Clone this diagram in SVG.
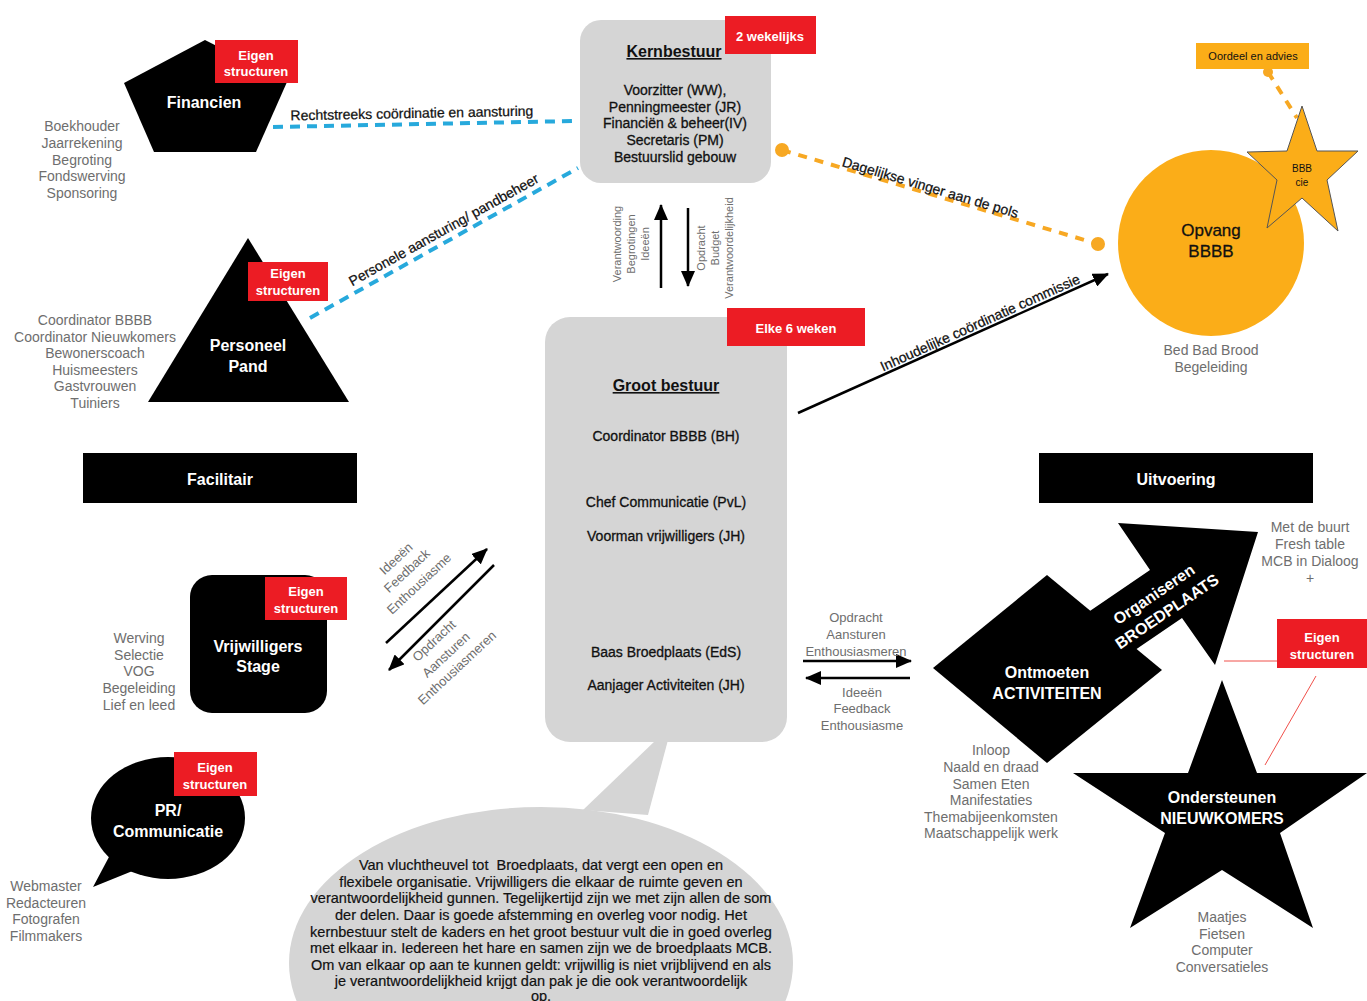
<svg xmlns="http://www.w3.org/2000/svg" width="1367" height="1001" viewBox="0 0 1367 1001">
<style>
text{font-family:"Liberation Sans",Arial,sans-serif}
.lst{font-size:14px;fill:#6e6e6e;text-anchor:middle}
.lbl{font-size:13px;fill:#6e6e6e;text-anchor:middle}
.wt{font-size:16px;font-weight:bold;fill:#fff;text-anchor:middle}
.red{fill:#ec1c24}
.rt{font-size:13px;font-weight:bold;fill:#fff;text-anchor:middle}
.gb{fill:#d5d5d5}
.bt{font-size:14px;fill:#111;text-anchor:middle;stroke:#111;stroke-width:0.3}
.cl{font-size:14px;fill:#111;text-anchor:middle;stroke:#111;stroke-width:0.25}
.vt{font-size:11px;fill:#6e6e6e;text-anchor:middle}
.bub{font-size:14.5px;fill:#111;text-anchor:middle;stroke:#111;stroke-width:0.2}
.blue{fill:none;stroke:#27a9dc;stroke-width:4;stroke-dasharray:10 7}
.org{fill:none;stroke:#f7a823;stroke-width:4;stroke-dasharray:9 8}
.arr{fill:none;stroke:#000;stroke-width:2.5;marker-end:url(#ah)}
</style>
<defs>
<marker id="ah" markerUnits="userSpaceOnUse" markerWidth="16" markerHeight="14" refX="15" refY="7" orient="auto">
<path d="M0,0 L16,7 L0,14 z" fill="#000"/>
</marker>
</defs>
<rect width="1367" height="1001" fill="#fff"/>

<g id="connectors">
<path class="blue" d="M273,127 L575,121"/>
<text class="cl" transform="translate(412,118) rotate(-1.1)">Rechtstreeks coördinatie en aansturing</text>
<path class="blue" d="M310,318 L578,168"/>
<text class="cl" transform="translate(446,234) rotate(-29.2)">Personele aansturing/ pandbeheer</text>
<path class="org" d="M782,150 L1098,244"/>
<circle cx="782" cy="150" r="7" fill="#f7a823"/>
<circle cx="1098" cy="244" r="7" fill="#f7a823"/>
<text class="cl" transform="translate(929,192) rotate(16.6)">Dagelijkse vinger aan de pols</text>
<path class="org" d="M1268,72 L1297,118"/>
<circle cx="1268" cy="72" r="5" fill="#f7a823"/>
<path class="arr" d="M798,413 L1108,274"/>
<text class="cl" transform="translate(982,327) rotate(-24.2)">Inhoudelijke coördinatie commissie</text>
<path class="arr" d="M661,288 L661,205"/>
<path class="arr" d="M688,208 L688,286"/>
<text class="vt" transform="translate(621,244) rotate(-90)">Verantwoording</text>
<text class="vt" transform="translate(635,244) rotate(-90)">Begrotingen</text>
<text class="vt" transform="translate(649,244) rotate(-90)">Ideeën</text>
<text class="vt" transform="translate(705,248) rotate(-90)">Opdracht</text>
<text class="vt" transform="translate(719,248) rotate(-90)">Budget</text>
<text class="vt" transform="translate(733,248) rotate(-90)">Verantwoordelijkheid</text>
<path class="arr" d="M386,643 L487,549"/>
<path class="arr" d="M494,565 L389,670"/>
<text class="lbl" transform="translate(399,562) rotate(-43)">Ideeën</text>
<text class="lbl" transform="translate(410,574) rotate(-43)">Feedback</text>
<text class="lbl" transform="translate(422,587) rotate(-43)">Enthousiasme</text>
<text class="lbl" transform="translate(437,644) rotate(-43)">Opdracht</text>
<text class="lbl" transform="translate(449,658) rotate(-43)">Aansturen</text>
<text class="lbl" transform="translate(460,671) rotate(-43)">Enthousiasmeren</text>
<path class="arr" d="M803,661 L911,661"/>
<path class="arr" d="M910,678 L806,678"/>
<text class="lbl" x="856" y="622">Opdracht</text>
<text class="lbl" x="856" y="639">Aansturen</text>
<text class="lbl" x="856" y="656">Enthousiasmeren</text>
<text class="lbl" x="862" y="697">Ideeën</text>
<text class="lbl" x="862" y="713">Feedback</text>
<text class="lbl" x="862" y="730">Enthousiasme</text>
<path d="M1224,661 L1277,661" stroke="#f0504a" stroke-width="1"/>
<path d="M1316,676 L1265,765" stroke="#f0504a" stroke-width="1"/>
</g>

<g id="financien">
<polygon points="205,40 287,82 256,152 154,152 124,83" fill="#000"/>
<text class="wt" x="204" y="108">Financien</text>
<rect class="red" x="215" y="40" width="83" height="43"/>
<text class="rt" x="256" y="60">Eigen</text>
<text class="rt" x="256" y="76">structuren</text>
<text class="lst" x="82" y="131">Boekhouder</text>
<text class="lst" x="82" y="148">Jaarrekening</text>
<text class="lst" x="82" y="165">Begroting</text>
<text class="lst" x="82" y="181">Fondswerving</text>
<text class="lst" x="82" y="198">Sponsoring</text>
</g>

<g id="kernbestuur">
<rect class="gb" x="580" y="20" width="191" height="163" rx="21"/>
<text x="674" y="57" font-size="16" font-weight="bold" fill="#111" text-anchor="middle" text-decoration="underline">Kernbestuur</text>
<text class="bt" x="675" y="95">Voorzitter (WW),</text>
<text class="bt" x="675" y="112">Penningmeester (JR)</text>
<text class="bt" x="675" y="128">Financiën &amp; beheer(IV)</text>
<text class="bt" x="675" y="145">Secretaris (PM)</text>
<text class="bt" x="675" y="162">Bestuurslid gebouw</text>
<rect class="red" x="725" y="16" width="91" height="38"/>
<text class="rt" x="770" y="41">2 wekelijks</text>
</g>

<g id="personeel">
<polygon points="248,238 349,402 148,402" fill="#000"/>
<text class="wt" x="248" y="351">Personeel</text>
<text class="wt" x="248" y="372">Pand</text>
<rect class="red" x="248" y="262" width="80" height="39"/>
<text class="rt" x="288" y="278">Eigen</text>
<text class="rt" x="288" y="295">structuren</text>
<text class="lst" x="95" y="325">Coordinator BBBB</text>
<text class="lst" x="95" y="342">Coordinator Nieuwkomers</text>
<text class="lst" x="95" y="358">Bewonerscoach</text>
<text class="lst" x="95" y="375">Huismeesters</text>
<text class="lst" x="95" y="391">Gastvrouwen</text>
<text class="lst" x="95" y="408">Tuiniers</text>
</g>

<g id="groot-bestuur">
<rect class="gb" x="545" y="317" width="242" height="425" rx="25"/>
<text x="666" y="391" font-size="16" font-weight="bold" fill="#111" text-anchor="middle" text-decoration="underline">Groot bestuur</text>
<text class="bt" x="666" y="441">Coordinator BBBB (BH)</text>
<text class="bt" x="666" y="507">Chef Communicatie (PvL)</text>
<text class="bt" x="666" y="541">Voorman vrijwilligers (JH)</text>
<text class="bt" x="666" y="657">Baas Broedplaats (EdS)</text>
<text class="bt" x="666" y="690">Aanjager Activiteiten (JH)</text>
<rect class="red" x="727" y="308" width="138" height="38"/>
<text class="rt" x="796" y="333">Elke 6 weken</text>
</g>

<g id="bubble">
<polygon class="gb" points="656,740 668,740 648,815 583,810"/>
<ellipse class="gb" cx="541" cy="963" rx="252" ry="156"/>
<text class="bub" x="541" y="870" xml:space="preserve">Van vluchtheuvel tot  Broedplaats, dat vergt een open en</text>
<text class="bub" x="541" y="887">flexibele organisatie. Vrijwilligers die elkaar de ruimte geven en</text>
<text class="bub" x="541" y="903">verantwoordelijkheid gunnen. Tegelijkertijd zijn we met zijn allen de som</text>
<text class="bub" x="541" y="920">der delen. Daar is goede afstemming en overleg voor nodig. Het</text>
<text class="bub" x="541" y="937">kernbestuur stelt de kaders en het groot bestuur vult die in goed overleg</text>
<text class="bub" x="541" y="953">met elkaar in. Iedereen het hare en samen zijn we de broedplaats MCB.</text>
<text class="bub" x="541" y="970">Om van elkaar op aan te kunnen geldt: vrijwillig is niet vrijblijvend en als</text>
<text class="bub" x="541" y="986">je verantwoordelijkheid krijgt dan pak je die ook verantwoordelijk</text>
<text class="bub" x="541" y="1001">op.</text>
</g>

<g id="facilitair">
<rect x="83" y="453" width="274" height="50" fill="#000"/>
<text class="wt" x="220" y="485">Facilitair</text>
</g>

<g id="uitvoering">
<rect x="1039" y="453" width="274" height="50" fill="#000"/>
<text class="wt" x="1176" y="485">Uitvoering</text>
</g>

<g id="vrijwilligers">
<rect x="190" y="575" width="137" height="138" rx="22" fill="#000"/>
<text class="wt" x="258" y="652">Vrijwilligers</text>
<text class="wt" x="258" y="672">Stage</text>
<rect class="red" x="265" y="577" width="82" height="43"/>
<text class="rt" x="306" y="596">Eigen</text>
<text class="rt" x="306" y="613">structuren</text>
<text class="lst" x="139" y="643">Werving</text>
<text class="lst" x="139" y="660">Selectie</text>
<text class="lst" x="139" y="676">VOG</text>
<text class="lst" x="139" y="693">Begeleiding</text>
<text class="lst" x="139" y="710">Lief en leed</text>
</g>

<g id="pr">
<ellipse cx="168" cy="818" rx="77" ry="61" fill="#000"/>
<polygon points="110,855 93,887 135,870" fill="#000"/>
<text class="wt" x="168" y="816">PR/</text>
<text class="wt" x="168" y="837">Communicatie</text>
<rect class="red" x="174" y="752" width="83" height="44"/>
<text class="rt" x="215" y="772">Eigen</text>
<text class="rt" x="215" y="789">structuren</text>
<text class="lst" x="46" y="891">Webmaster</text>
<text class="lst" x="46" y="908">Redacteuren</text>
<text class="lst" x="46" y="924">Fotografen</text>
<text class="lst" x="46" y="941">Filmmakers</text>
</g>

<g id="opvang">
<circle cx="1211" cy="243" r="93" fill="#fbad18"/>
<text x="1211" y="236" font-size="17" fill="#111" stroke="#111" stroke-width="0.3" text-anchor="middle">Opvang</text>
<text x="1211" y="257" font-size="17" fill="#111" stroke="#111" stroke-width="0.3" text-anchor="middle">BBBB</text>
<text class="lst" x="1211" y="355">Bed Bad Brood</text>
<text class="lst" x="1211" y="372">Begeleiding</text>
</g>

<g id="bbb-cie">
<polygon points="1302,106 1317,151 1358,151 1327,180 1338,231 1302,198 1267,228 1277,180 1247,152 1287,151" fill="#fbad18" stroke="#555" stroke-width="1"/>
<text x="1302" y="172" font-size="10" fill="#111" text-anchor="middle">BBB</text>
<text x="1302" y="186" font-size="10" fill="#111" text-anchor="middle">cie</text>
</g>

<g id="oordeel">
<rect x="1196" y="43" width="113" height="26" fill="#fbad18"/>
<text x="1253" y="60" font-size="11" fill="#111" text-anchor="middle">Oordeel en advies</text>
</g>

<g id="activiteiten">
<polygon points="933,668 1047,575 1162,670 1047,763" fill="#000"/>
<text class="wt" x="1047" y="678">Ontmoeten</text>
<text class="wt" x="1047" y="699">ACTIVITEITEN</text>
<text class="lst" x="991" y="755">Inloop</text>
<text class="lst" x="991" y="772">Naald en draad</text>
<text class="lst" x="991" y="789">Samen Eten</text>
<text class="lst" x="991" y="805">Manifestaties</text>
<text class="lst" x="991" y="822">Themabijeenkomsten</text>
<text class="lst" x="991" y="838">Maatschappelijk werk</text>
</g>

<g id="broedplaats">
<polygon points="1084,615 1150,570 1118,523 1258,532 1215,665 1182,618 1116,663" fill="#000"/>
<text class="wt" transform="translate(1157,599) rotate(-34)">Organiseren</text>
<text class="wt" transform="translate(1170,616) rotate(-34)">BROEDPLAATS</text>
<text class="lst" x="1310" y="532">Met de buurt</text>
<text class="lst" x="1310" y="549">Fresh table</text>
<text class="lst" x="1310" y="566">MCB in Dialoog</text>
<text class="lst" x="1310" y="583">+</text>
<rect class="red" x="1277" y="619" width="90" height="49"/>
<text class="rt" x="1322" y="642">Eigen</text>
<text class="rt" x="1322" y="659">structuren</text>
</g>

<g id="nieuwkomers">
<polygon points="1222,680 1257,773 1367,773 1280,833 1313,928 1222,870 1130,928 1165,833 1073,773 1188,773" fill="#000"/>
<text class="wt" x="1222" y="803">Ondersteunen</text>
<text class="wt" x="1222" y="824">NIEUWKOMERS</text>
<text class="lst" x="1222" y="922">Maatjes</text>
<text class="lst" x="1222" y="939">Fietsen</text>
<text class="lst" x="1222" y="955">Computer</text>
<text class="lst" x="1222" y="972">Conversatieles</text>
</g>
</svg>
